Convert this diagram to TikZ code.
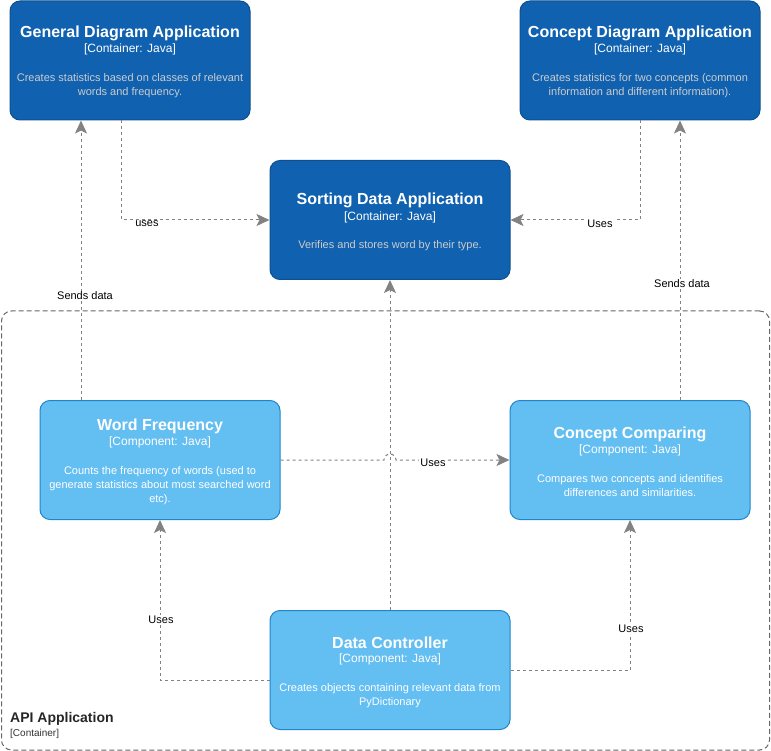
\documentclass[tikz,border=0pt]{standalone}
\usepackage{fontspec}
\setmainfont{Liberation Sans}
\usetikzlibrary{arrows.meta,calc}
\definecolor{contfill}{HTML}{1061B0}
\definecolor{contdraw}{HTML}{0D5091}
\definecolor{compfill}{HTML}{63BEF2}
\definecolor{compdraw}{HTML}{2086C9}
\definecolor{descgray}{HTML}{CCCCCC}
\definecolor{edgegray}{HTML}{828282}
\definecolor{boundgray}{HTML}{666666}
\tikzset{
  contbox/.style={draw=contdraw, fill=contfill, line width=1pt, rounded corners=10pt, minimum width=240pt, minimum height=119pt, inner sep=0pt},
  compbox/.style={draw=compdraw, fill=compfill, line width=1pt, rounded corners=10pt, minimum width=240pt, minimum height=119pt, inner sep=0pt},
  ttl/.style={text=white, font=\fontsize{16}{19}\selectfont\bfseries, inner sep=0pt},
  sub/.style={text=white, font=\fontsize{12}{14}\selectfont, inner sep=0pt},
  cdesc/.style={text=descgray, font=\fontsize{11}{14}\selectfont, align=center, inner sep=0pt},
  kdesc/.style={text=white, font=\fontsize{11}{14}\selectfont, align=center, inner sep=0pt},
  conn/.style={draw=edgegray, line width=1pt, dash pattern=on 3pt off 3pt, -{Stealth[length=13pt,width=12pt,inset=3pt,fill=edgegray]}},
  lbl/.style={fill=white, text=black, font=\fontsize{11}{13}\selectfont, inner sep=1pt},
}
\begin{document}
\begin{tikzpicture}[x=1pt,y=-1pt]
\useasboundingbox (0,0) rectangle (771,751);
% boundary
\node[draw=boundgray, line width=1pt, dash pattern=on 5pt off 3pt, rounded corners=10pt, minimum width=768pt, minimum height=439pt, inner sep=0pt] (api) at (385.5,530.5) {};
\node[anchor=west, inner sep=0pt, font=\fontsize{14}{16}\selectfont\bfseries, text=black!85] (apit) at (10,719) {API Application};
\node[anchor=west, inner sep=0pt, font=\fontsize{10}{12}\selectfont, text=black!80] (apis) at (10,734) {[Container]};

% containers
\node[contbox] (gda) at (130,60.5) {};
\node[ttl] (gdat) at (130,33) {General Diagram Application};
\node[sub] (gdas) at (130,49) {[Container: Java]};
\node[cdesc] (gdad) at (130,86) {Creates statistics based on classes of relevant\\words and frequency.};

\node[contbox] (cda) at (640,60.5) {};
\node[ttl] (cdat) at (640,33) {Concept Diagram Application};
\node[sub] (cdas) at (640,49) {[Container: Java]};
\node[cdesc] (cdad) at (640,86) {Creates statistics for two concepts (common\\information and different information).};

\node[contbox] (sda) at (390,220) {};
\node[ttl] (sdat) at (390,200) {Sorting Data Application};
\node[sub] (sdas) at (390,217) {[Container: Java]};
\node[cdesc] (sdad) at (390,246) {Verifies and stores word by their type.};

% components
\node[compbox] (wf) at (160,460) {};
\node[ttl] (wft) at (160,426) {Word Frequency};
\node[sub] (wfs) at (160,442) {[Component: Java]};
\node[kdesc] (wfd) at (160,486) {Counts the frequency of words (used to\\generate statistics about most searched word\\etc).};

\node[compbox] (cc) at (630,460) {};
\node[ttl] (cct) at (630,434) {Concept Comparing};
\node[sub] (ccs) at (630,450) {[Component: Java]};
\node[kdesc] (ccd) at (630,486) {Compares two concepts and identifies\\differences and similarities.};

\node[compbox] (dc) at (390,670) {};
\node[ttl] (dct) at (390,643) {Data Controller};
\node[sub] (dcs) at (390,659) {[Component: Java]};
\node[kdesc] (dcd) at (390,696) {Creates objects containing relevant data from\\PyDictionary};

% connectors
\draw[conn] (gda.south -| 121,0) |- (sda.west);
\node[lbl] (l1) at (147,224) {uses};
\draw[conn] (cda.south) |- (sda.east);
\node[lbl] (l2) at (600,224) {Uses};
\draw[conn] (wf.north -| 81,0) -- (gda.south -| 81,0);
\node[lbl] (l3) at (85,296) {Sends data};
\draw[conn] (cc.north -| 680,0) -- (cda.south -| 680,0);
\node[lbl] (l4) at (682,284) {Sends data};
\draw[conn] (dc.north) -- (sda.south);
\draw[conn] (wf.east) -- ($(dc.north |- wf.east)+(-6,0)$) arc[start angle=180,end angle=0,radius=6pt] -- (cc.west);
\node[lbl] (l5) at (433,463) {Uses};
\draw[conn] (dc.west |- 0,680) -| (wf.south);
\node[lbl] (l6) at (161,620) {Uses};
\draw[conn] (dc.east) -| (cc.south);
\node[lbl] (l7) at (631,629) {Uses};
\end{tikzpicture}
\end{document}
